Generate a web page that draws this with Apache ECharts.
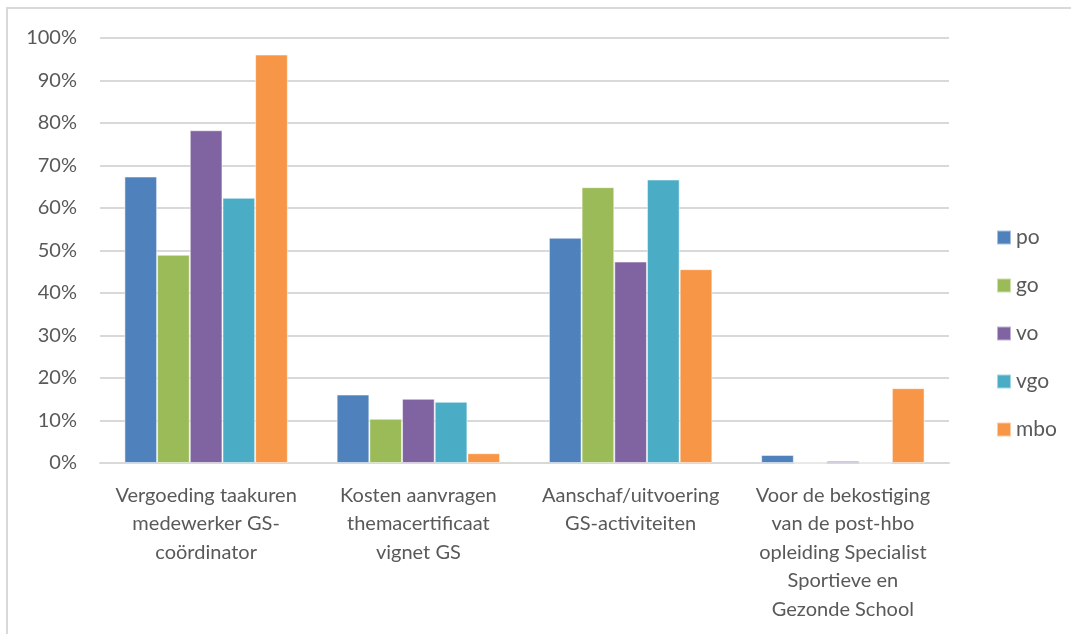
<!DOCTYPE html>
<html>
<head>
<meta charset="utf-8">
<script src="https://cdn.jsdelivr.net/npm/echarts@6/dist/echarts.min.js"></script>
<style>
  html, body { margin: 0; padding: 0; background: #fff; overflow: hidden; }
  #frame { position: absolute; left: 6px; top: 7px; width: 1200px; height: 800px; border: 2px solid #d9d9d9; box-sizing: border-box; }
  #chart { position: absolute; left: 0; top: 0; width: 1071px; height: 634px; }
</style>
</head>
<body>
<div id="frame"></div>
<div id="chart"></div>
<script>
// categories (Dutch labels, wrapped like the original)
const categories = [
  'Vergoeding taakuren\nmedewerker GS-\ncoördinator',
  'Kosten aanvragen\nthemacertificaat\nvignet GS',
  'Aanschaf/uitvoering\nGS-activiteiten',
  'Voor de bekostiging\nvan de post-hbo\nopleiding Specialist\nSportieve en\nGezonde School'
];

// percentages per school type
const po  = [67.4, 16.1, 53.0, 1.9];
const go  = [49.0, 10.4, 64.9, 0];
const vo  = [78.3, 15.1, 47.4, 0.5];
const vgo = [62.4, 14.4, 66.7, 0];
const mbo = [96.1, 2.3, 45.6, 17.6];

const seriesNames = ['po', 'go', 'vo', 'vgo', 'mbo'];
const seriesData = [po, go, vo, vgo, mbo];
const colors = ['#4F81BD', '#9BBB59', '#8064A2', '#4BACC6', '#F79646'];

const yTicks = { min: 0, max: 100, interval: 10 };

const chart = echarts.init(document.getElementById('chart'), null, { renderer: 'canvas' });

const font = 'Lato, "Open Sans", sans-serif';

const option = {
  animation: false,
  color: colors,
  textStyle: { fontFamily: font },
  grid: { left: 100, right: 122, top: 38, bottom: 171 },
  legend: {
    orient: 'vertical',
    left: 991,
    top: 222,
    itemWidth: 14,
    itemHeight: 14,
    itemGap: 27,
    icon: 'rect',
    textStyle: { fontSize: 21, lineHeight: 18, color: '#595959', fontFamily: font },
    data: seriesNames
  },
  xAxis: {
    type: 'category',
    data: categories,
    axisTick: { show: false },
    axisLine: { lineStyle: { color: '#d9d9d9', width: 2 } },
    axisLabel: {
      interval: 0,
      margin: 18,
      fontSize: 20,
      lineHeight: 28.5,
      color: '#595959',
      fontFamily: font
    }
  },
  yAxis: {
    type: 'value',
    min: yTicks.min,
    max: yTicks.max,
    interval: yTicks.interval,
    axisLine: { show: false },
    axisTick: { show: false },
    splitLine: { lineStyle: { color: '#d9d9d9', width: 2 } },
    axisLabel: {
      formatter: '{value}%',
      margin: 23,
      fontSize: 20,
      color: '#595959',
      fontFamily: font
    }
  },
  series: seriesNames.map((name, i) => ({
    name: name,
    type: 'bar',
    data: seriesData[i],
    barGap: '0%',
    barCategoryGap: '23%',
    itemStyle: { borderColor: 'rgba(255,255,255,0.5)', borderWidth: 1 }
  }))
};

chart.setOption(option);
</script>
</body>
</html>
